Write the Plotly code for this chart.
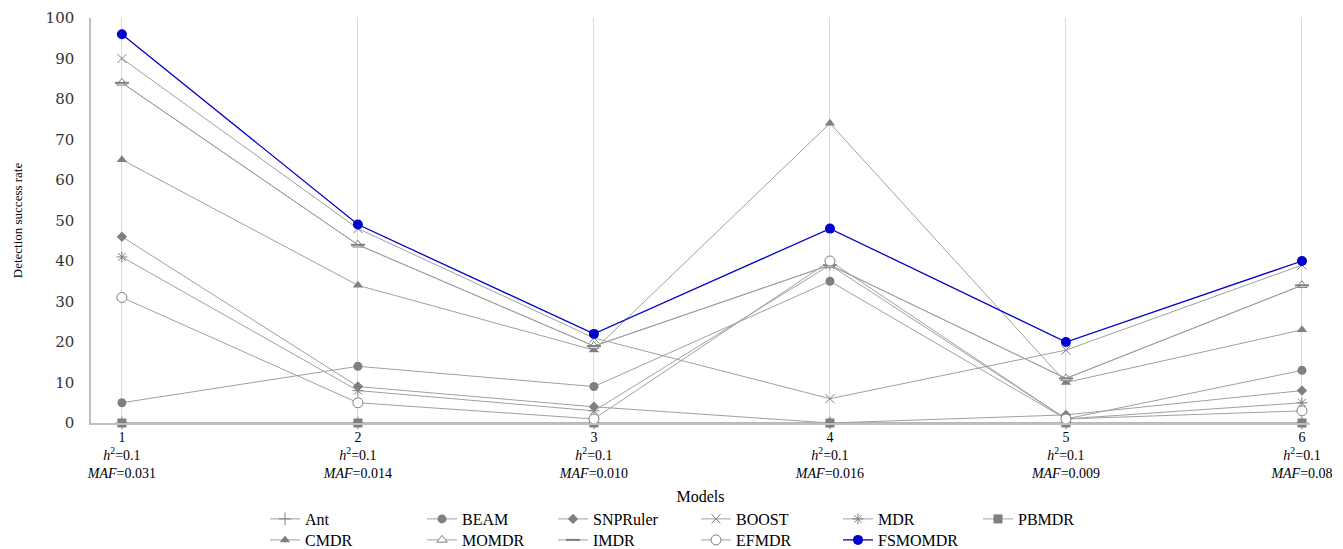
import plotly.graph_objects as go

models = [1, 2, 3, 4, 5, 6]
h2_labels = ["0.1", "0.1", "0.1", "0.1", "0.1", "0.1"]
maf_labels = ["0.031", "0.014", "0.010", "0.016", "0.009", "0.08"]

ant = [0, 0, 0, 0, 0, 0]
beam = [5, 14, 9, 35, 1, 13]
snpruler = [46, 9, 4, 0, 2, 8]
boost = [90, 48, 21, 6, 18, 39]
mdr = [41, 8, 3, 39, 1, 5]
pbmdr = [0, 0, 0, 0, 0, 0]
cmdr = [65, 34, 18, 74, 10, 23]
momdr = [84, 44, 19, 39, 11, 34]
imdr = [84, 44, 19, 39, 11, 34]
efmdr = [31, 5, 1, 40, 1, 3]
fsmomdr = [96, 49, 22, 48, 20, 40]

GRAY_LINE = "#a0a0a0"
GRAY_MK = "#7f7f7f"
FONT = "Liberation Serif"

ticktext = [f"{m}<br><i>h</i><sup>2</sup>={h}<br><i>MAF</i>={maf}"
            for m, h, maf in zip(models, h2_labels, maf_labels)]

series = [
    ("Ant", ant, dict(symbol="cross-thin-open", size=9, color=GRAY_MK, line=dict(color=GRAY_MK, width=1))),
    ("BEAM", beam, dict(symbol="circle", size=9, color=GRAY_MK, line=dict(width=0))),
    ("SNPRuler", snpruler, dict(symbol="diamond", size=8, color=GRAY_MK, line=dict(width=0))),
    ("BOOST", boost, dict(symbol="x-thin-open", size=9, color=GRAY_MK, line=dict(color=GRAY_MK, width=1))),
    ("MDR", mdr, dict(symbol="asterisk-open", size=9, color=GRAY_MK, line=dict(color=GRAY_MK, width=1))),
    ("PBMDR", pbmdr, dict(symbol="square", size=9, color=GRAY_MK, line=dict(width=0))),
    ("CMDR", cmdr, dict(symbol="triangle-up", size=9, color=GRAY_MK, line=dict(width=0))),
    ("MOMDR", momdr, dict(symbol="triangle-up", size=9, color="white", line=dict(color=GRAY_MK, width=1))),
    ("IMDR", imdr, dict(symbol="line-ew-open", size=10, color=GRAY_MK, line=dict(color=GRAY_MK, width=2))),
    ("EFMDR", efmdr, dict(symbol="circle", size=10, color="white", line=dict(color=GRAY_MK, width=1))),
    ("FSMOMDR", fsmomdr, dict(symbol="circle", size=10, color="#0000cc", line=dict(width=0))),
]

# figure coordinates (page body adds an 8px offset)
PLOT_L, PLOT_R, PLOT_T, PLOT_B = 83, 1302, 10, 415
W, H = 1343, 549
col_left = [257, 414, 545, 688, 830, 970]
row_y = [511, 532]

fig = go.Figure()
legend_layouts = {}
for i, (name, vals, mk) in enumerate(series):
    lc = "#0000cc" if name == "FSMOMDR" else GRAY_LINE
    lg_key = "legend" if i == 0 else f"legend{i + 1}"
    fig.add_trace(go.Scatter(
        x=models, y=vals, name=name, mode="lines+markers",
        line=dict(color=lc, width=1.3 if name == "FSMOMDR" else 1),
        marker=mk, cliponaxis=False, legend=lg_key,
    ))
    row, col = (0, i) if i < 6 else (1, i - 6)
    legend_layouts[lg_key] = dict(
        x=(col_left[col] - PLOT_L) / (PLOT_R - PLOT_L),
        y=(PLOT_B - row_y[row]) / (PLOT_B - PLOT_T),
        xanchor="left", yanchor="middle", orientation="h",
        font=dict(family=FONT, size=16, color="#000000"),
        itemwidth=30, bgcolor="rgba(0,0,0,0)", borderwidth=0,
    )

fig.update_layout(
    width=W, height=H,
    margin=dict(l=PLOT_L, r=W - PLOT_R, t=PLOT_T, b=H - PLOT_B, autoexpand=False),
    plot_bgcolor="white", paper_bgcolor="white",
    font=dict(family=FONT, size=15, color="#000000"),
    showlegend=True,
    xaxis=dict(
        range=[0.869, 6.034], tickmode="array", tickvals=models, ticktext=ticktext,
        showgrid=True, gridcolor="#d9d9d9", gridwidth=1,
        showline=True, linecolor="#bfbfbf", linewidth=1.5,
        zeroline=False, ticks="", tickfont=dict(family=FONT, size=14, color="#000"),
        title=dict(text="Models", font=dict(family=FONT, size=16, color="#000"), standoff=11),
        fixedrange=True, automargin=False,
    ),
    yaxis=dict(
        range=[0, 100], tickmode="array", tickvals=list(range(0, 101, 10)),
        showgrid=False, zeroline=False,
        showline=True, linecolor="#bfbfbf", linewidth=1.5,
        ticks="", ticklabelstandoff=12,
        tickfont=dict(family="DejaVu Serif", size=15, color="#333333"),
        title=dict(text="Detection success rate", font=dict(family=FONT, size=13, color="#000"), standoff=20),
        fixedrange=True, automargin=False,
    ),
    **legend_layouts,
)

fig.write_html("out.html")
